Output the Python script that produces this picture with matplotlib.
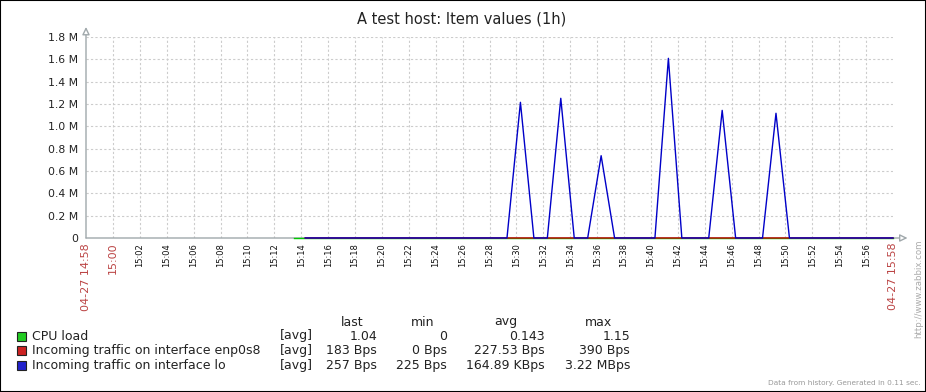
import numpy as np
import matplotlib
matplotlib.use("Agg")
from matplotlib import pyplot as plt
from matplotlib.patches import Rectangle

W, H = 926, 392

# x axis is minutes after 14:58
tick_minutes = list(range(0, 62, 2))
tick_labels = ["04-27 14:58", "15:00", "15:02", "15:04", "15:06", "15:08", "15:10",
               "15:12", "15:14", "15:16", "15:18", "15:20", "15:22", "15:24",
               "15:26", "15:28", "15:30", "15:32", "15:34", "15:36", "15:38",
               "15:40", "15:42", "15:44", "15:46", "15:48", "15:50", "15:52",
               "15:54", "15:56", "04-27 15:58"]
y_ticks = [0, 0.2e6, 0.4e6, 0.6e6, 0.8e6, 1.0e6, 1.2e6, 1.4e6, 1.6e6, 1.8e6]
y_labels = ["0", "0.2 M", "0.4 M", "0.6 M", "0.8 M", "1.0 M", "1.2 M", "1.4 M", "1.6 M", "1.8 M"]

# CPU load, one sample per minute from 15:13.5
cpu_t = np.append(np.arange(15.5, 59.6, 1.0), 60.0)
cpu_v = [0.9, 1.0, 1.1, 1.0, 0.95, 1.05, 1.1, 1.0, 0.9, 1.0, 1.15, 1.0,
         0.98, 1.02, 1.0, 1.1, 1.05, 1.0, 0.95, 1.0, 1.1, 1.0, 1.03, 1.0,
         1.1, 1.0, 0.97, 1.05, 1.0, 1.02, 1.08, 1.0, 1.0, 1.04, 1.1, 1.0,
         0.99, 1.0, 1.05, 1.0, 1.02, 1.0, 1.1, 1.04, 1.04, 1.04]

# incoming traffic on enp0s8 (Bps), one sample per minute from 15:14.3
enp_t = np.append(np.arange(16.3, 59.4, 1.0), 60.0)
enp_v = [210, 230, 250, 200, 190, 260, 240, 220, 390, 210, 230, 200,
         180, 250, 240, 220, 260, 230, 210, 200, 240, 250, 220, 230,
         210, 260, 240, 220, 200, 230, 250, 210, 240, 220, 230, 200,
         260, 240, 210, 230, 220, 250, 190, 183, 183]

# incoming traffic on lo (Bps), one sample per minute from 15:14.3
lo_t = np.append(np.arange(16.3, 59.4, 1.0), 60.0)
lo_v = [260, 240, 250, 230, 270, 250, 240, 260, 250, 245, 255, 260,
        240, 250, 260, 250, 1215000, 250, 260, 1251000, 250, 240, 737000, 250,
        260, 245, 250, 1609000, 255, 240, 250, 1143000, 260, 250, 240, 1117000,
        250, 260, 240, 250, 255, 245, 250, 257, 257]

series_names = ["CPU load", "Incoming traffic on interface enp0s8", "Incoming traffic on interface lo"]
series_colors = ["#00c800", "#c80000", "#0000c8"]
legend_fill = ["#22cc22", "#cc2222", "#2222cc"]
stat_last = ["1.04", "183 Bps", "257 Bps"]
stat_min = ["0", "0 Bps", "225 Bps"]
stat_avg = ["0.143", "227.53 Bps", "164.89 KBps"]
stat_max = ["1.15", "390 Bps", "3.22 MBps"]


def fx(px):
    return px / W


def fy(py):
    return 1 - py / H


fig = plt.figure(figsize=(W / 100, H / 100), dpi=100)
fig.patch.set_facecolor("white")

ax = fig.add_axes([fx(86), fy(238), (893 - 86) / W, (238 - 37) / H])
ax.set_xlim(0, 60)
ax.set_ylim(0, 1.8e6)

ax.plot(cpu_t, cpu_v, color=series_colors[0], lw=1.0, clip_on=False, zorder=3)
ax.plot(enp_t, enp_v, color=series_colors[1], lw=1.0, clip_on=False, zorder=3)
ax.plot(lo_t, lo_v, color=series_colors[2], lw=1.0, clip_on=False, zorder=3)

for s in ax.spines.values():
    s.set_visible(False)

ax.set_yticks(y_ticks)
ax.set_yticklabels(y_labels, fontsize=7.8, color="#222222")
ax.set_xticks(tick_minutes)
ax.set_xticklabels(tick_labels, rotation=90, va="top", ha="center")
ax.tick_params(axis="both", length=0)
ax.tick_params(axis="y", pad=5.5)
ax.tick_params(axis="x", pad=3.5)
for i, lab in enumerate(ax.get_xticklabels()):
    if i in (0, 1, len(tick_labels) - 1):
        lab.set_color("#bb4444")
        lab.set_fontsize(8)
    else:
        lab.set_color("#111111")
        lab.set_fontsize(6)

ax.grid(True, color="#cccccc", linestyle=(0, (2, 2)), lw=0.8)
ax.set_axisbelow(True)
xg = ax.get_xgridlines()
xg[0].set_visible(False)
xg[-1].set_visible(False)
ax.get_ygridlines()[0].set_visible(False)

# axes with arrow heads
arrow = dict(arrowstyle="-|>,head_length=0.45,head_width=0.22", fc="white",
             ec="#a0a8ab", lw=1.0, shrinkA=0, shrinkB=0)
ax.annotate("", xy=(0, 1.05), xytext=(0, 0), xycoords="axes fraction",
            textcoords="axes fraction", arrowprops=arrow, annotation_clip=False,
            zorder=1)
ax.annotate("", xy=(1.018, 0), xytext=(0, 0), xycoords="axes fraction",
            textcoords="axes fraction", arrowprops=arrow, annotation_clip=False,
            zorder=1)

fig.text(fx(462), fy(19), "A test host: Item values (1h)", fontsize=10.5,
         color="#222222", ha="center", va="center")

# legend table
fs = 9
hy = fy(322)
for label, cx in zip(["last", "min", "avg", "max"], [352, 423, 506, 598]):
    fig.text(fx(cx), hy, label, fontsize=fs, ha="center", va="center", color="#222222")

rows_y = [336, 350.5, 365]
for i in range(3):
    y = rows_y[i]
    fig.patches.append(Rectangle((fx(17), fy(y + 4.5)), 9 / W, 9 / H,
                                 transform=fig.transFigure, fc=legend_fill[i],
                                 ec="#222222", lw=0.8))
    fig.text(fx(32), fy(y), series_names[i], fontsize=fs, ha="left", va="center", color="#222222")
    fig.text(fx(280), fy(y), "[avg]", fontsize=fs, ha="left", va="center", color="#222222")
    fig.text(fx(377), fy(y), stat_last[i], fontsize=fs, ha="right", va="center", color="#222222")
    fig.text(fx(447), fy(y), stat_min[i], fontsize=fs, ha="right", va="center", color="#222222")
    fig.text(fx(545), fy(y), stat_avg[i], fontsize=fs, ha="right", va="center", color="#222222")
    fig.text(fx(630), fy(y), stat_max[i], fontsize=fs, ha="right", va="center", color="#222222")

fig.text(fx(921), fy(383), "Data from history. Generated in 0.11 sec.", fontsize=5.3,
         ha="right", va="center", color="#999999")
fig.text(fx(919), fy(289), "http://www.zabbix.com", fontsize=6.2, rotation=90,
         ha="center", va="center", color="#aaaaaa")

fig.patches.append(Rectangle((0, 0), 1, 1, transform=fig.transFigure, fill=False,
                             ec="black", lw=1.5))

fig.savefig("out.png", dpi=100)
